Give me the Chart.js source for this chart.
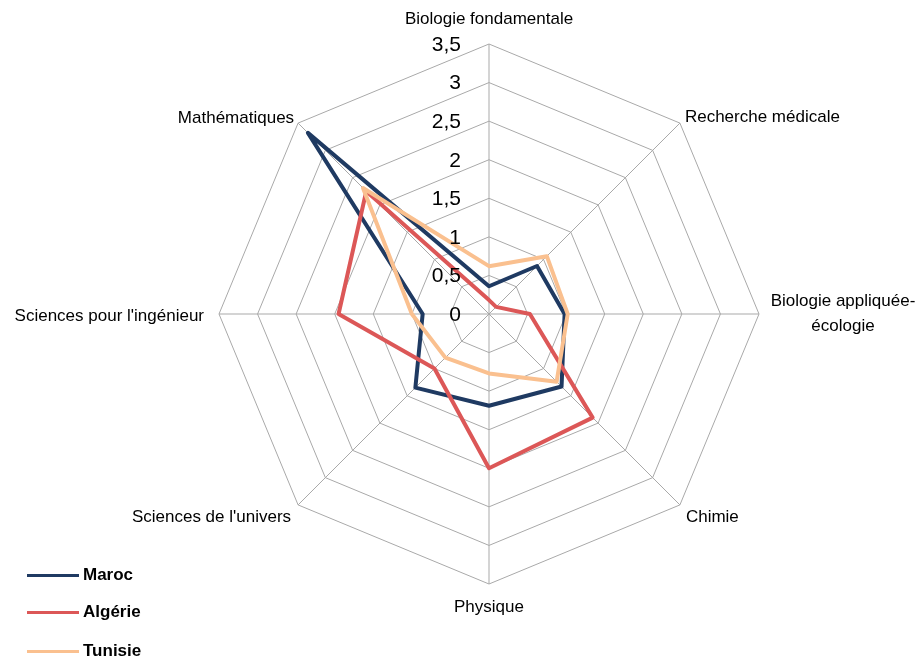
<!DOCTYPE html>
<html lang="fr">
<head>
<meta charset="utf-8">
<title>Radar</title>
<script src="https://cdn.jsdelivr.net/npm/chart.js@4.4.1/dist/chart.umd.min.js"></script>
<style>
    html, body { margin: 0; padding: 0; background: #fff; }
    #wrap { position: relative; width: 920px; height: 662px; overflow: hidden; }
    #legend { position: absolute; left: 0; top: 0; font: bold 17px "Liberation Sans", Arial, sans-serif; color: #000; }
    .row { position: absolute; left: 27px; height: 20px; line-height: 20px; white-space: nowrap; }
    .row .swatch { display: inline-block; width: 52px; height: 3px; vertical-align: middle; margin-right: 4px; }
</style>
</head>
<body>
<div id="wrap">
    <canvas id="radar" width="920" height="662"></canvas>
    <div id="legend"></div>
</div>
<script>
// categories, clockwise from the top
const categories = [
    'Biologie fondamentale',
    'Recherche médicale',
    ['Biologie appliquée-', 'écologie'],
    'Chimie',
    'Physique',
    "Sciences de l'univers",
    "Sciences pour l'ingénieur",
    'Mathématiques'
];

const maroc   = [0.36, 0.88, 0.98, 1.33, 1.19, 1.35, 0.86, 3.32];
const algerie = [0.18, 0.13, 0.53, 1.90, 2.00, 1.00, 1.95, 2.25];
const tunisie = [0.62, 1.06, 1.02, 1.24, 0.77, 0.80, 1.00, 2.31];

const seriesNames = ['Maroc', 'Algérie', 'Tunisie'];
const axisMin = 0;
const axisMax = 3.5;
const axisStep = 0.5;

const colors = ['#1f3a62', '#dc5757', '#fac08f'];
const fontFamily = '"Liberation Sans", Arial, sans-serif';

// where each category label sits relative to its outer vertex
const labelPlacement = [
    { align: 'center', dx: 0,   dy: -25 },
    { align: 'left',   dx: 5,   dy: -6 },
    { align: 'center', dx: 84,  dy: 0 },
    { align: 'left',   dx: 6,   dy: 12 },
    { align: 'center', dx: 0,   dy: 23 },
    { align: 'right',  dx: -7,  dy: 12 },
    { align: 'right',  dx: -15, dy: 2 },
    { align: 'right',  dx: -4,  dy: -5 }
];

// draws tick values (including 0) and category names from the scale's geometry
const radarText = {
    id: 'radarText',
    afterDatasetsDraw(chart) {
        const scale = chart.scales.r;
        const ctx = chart.ctx;
        ctx.save();
        ctx.fillStyle = '#000';
        ctx.textBaseline = 'middle';

        ctx.font = '21px ' + fontFamily;
        ctx.textAlign = 'right';
        scale.ticks.forEach(t => {
            const y = scale.yCenter - scale.getDistanceFromCenterForValue(t.value);
            ctx.fillText(String(t.value).replace('.', ','), scale.xCenter - 28, y + 1);
        });

        ctx.font = '17px ' + fontFamily;
        categories.forEach((label, i) => {
            const p = scale.getPointPosition(i, scale.drawingArea);
            const place = labelPlacement[i];
            const lines = Array.isArray(label) ? label : [label];
            const lineGap = 25;
            const x = p.x + place.dx;
            let y = p.y + place.dy - (lines.length - 1) * lineGap / 2;
            ctx.textAlign = place.align;
            lines.forEach(line => {
                ctx.fillText(line, x, y);
                y += lineGap;
            });
        });
        ctx.restore();
    }
};

const seriesData = [maroc, algerie, tunisie];

const ctx = document.getElementById('radar').getContext('2d');
new Chart(ctx, {
    type: 'radar',
    data: {
        labels: categories,
        datasets: seriesData.map((values, i) => ({
            label: seriesNames[i],
            data: values,
            borderColor: colors[i],
            backgroundColor: colors[i],
            borderWidth: 4,
            borderJoinStyle: 'round',
            pointRadius: 0,
            pointHoverRadius: 0,
            fill: false,
            tension: 0,
            order: seriesData.length - i
        }))
    },
    options: {
        responsive: false,
        animation: false,
        devicePixelRatio: 1,
        layout: {
            padding: { left: 219, right: 161, top: 44, bottom: 78 }
        },
        plugins: {
            legend: { display: false },
            tooltip: { enabled: false }
        },
        scales: {
            r: {
                min: axisMin,
                max: axisMax,
                ticks: { stepSize: axisStep, display: false },
                grid: { color: '#a9a9a9', lineWidth: 1, circular: false },
                angleLines: { color: '#a9a9a9', lineWidth: 1 },
                pointLabels: { display: false }
            }
        }
    },
    plugins: [radarText]
});

// legend on the bottom left, one row per series
const legend = document.getElementById('legend');
const rowCentres = [575, 612, 651];
seriesNames.forEach((name, i) => {
    const row = document.createElement('div');
    row.className = 'row';
    row.style.top = (rowCentres[i] - 10) + 'px';
    row.innerHTML = '<span class="swatch" style="background:' + colors[i] + '"></span>' + name;
    legend.appendChild(row);
});
</script>
</body>
</html>
